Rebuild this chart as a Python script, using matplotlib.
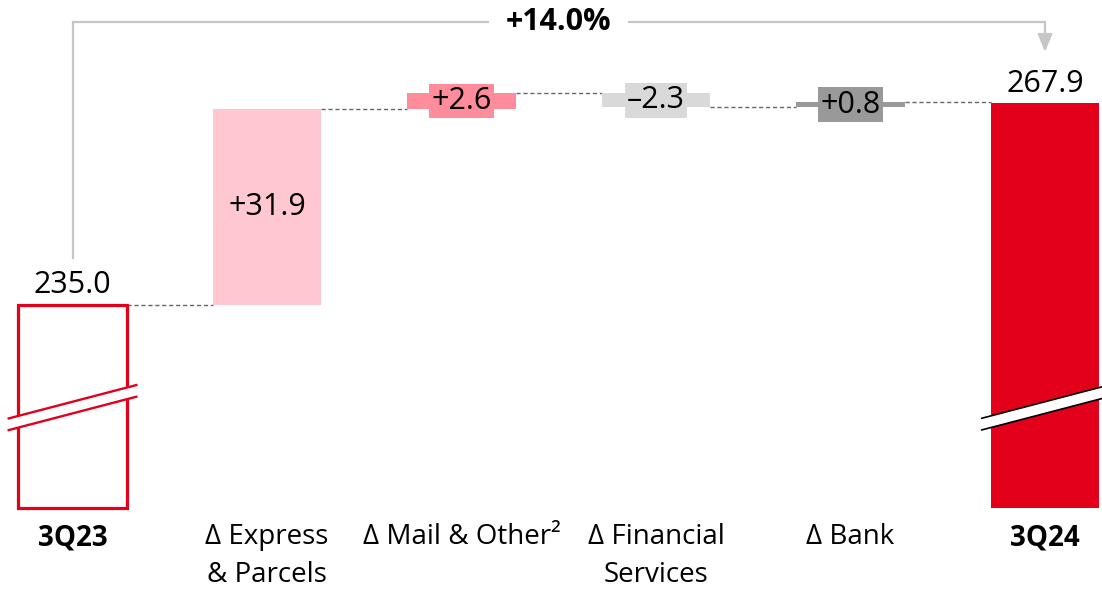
import numpy as np
import matplotlib
matplotlib.use('Agg')
import matplotlib.pyplot as plt
from matplotlib.patches import Polygon

plt.rcParams['font.family'] = ['Open Sans', 'DejaVu Sans']
FONT = 22

# ── Data ──────────────────────────────────────────────────────────────────────
categories = ['3Q23', '∆ Express\n& Parcels', '∆ Mail & Other²',
              '∆ Financial\nServices', '∆ Bank', '3Q24']
start_value = 235.0
deltas = [31.9, 2.6, -2.3, 0.8]
end_value = 267.9
delta_labels = ['+31.9', '+2.6', '–2.3', '+0.8']
growth_label = '+14.0%'

# ── Colours ───────────────────────────────────────────────────────────────────
RED = '#E2001A'
delta_colors = ['#FFC8D0', '#FF8C9B', '#D9D9D9', '#999999']
ARROW = '#C6C6C6'
DASH = '#666666'

# axis break: bars for totals start at this value
BASE, TOP = 201.95, 284.65
W = 0.556

fig = plt.figure(figsize=(11.02, 5.89), dpi=100)
ax = fig.add_axes([0, 81 / 589, 1, 508 / 589])
ax.set_xlim(-0.373, 5.293)
ax.set_ylim(BASE, TOP)
ax.axis('off')

x = np.arange(len(categories))
levels = start_value + np.cumsum(deltas)
bottoms = np.concatenate([[start_value], levels[:-1]])

# totals
ax.bar(x[0], start_value - BASE, bottom=BASE, width=W, facecolor='white',
       edgecolor=RED, linewidth=2.3, clip_on=False, zorder=2)
ax.bar(x[-1], end_value - BASE, bottom=BASE, width=W, color=RED,
       clip_on=False, zorder=2)

# floating deltas
ax.bar(x[1:-1], deltas, bottom=bottoms, width=W, color=delta_colors, zorder=2)

# connectors
conn = [start_value] + list(levels)
for i in range(len(categories) - 1):
    ax.plot([x[i] + W / 2, x[i + 1] - W / 2], [conn[i], conn[i]],
            color=DASH, linewidth=1, dashes=(3, 2), zorder=1)

# value labels
ax.annotate(f'{start_value:.1f}', (x[0], start_value), xytext=(0, 8.5),
            textcoords='offset points', ha='center', va='baseline', fontsize=FONT)
ax.annotate(f'{end_value:.1f}', (x[-1], end_value), xytext=(0, 8),
            textcoords='offset points', ha='center', va='baseline', fontsize=FONT)
ax.text(x[1], bottoms[0] + deltas[0] / 2, delta_labels[0], ha='center',
        va='center', fontsize=FONT)
for i in range(1, len(deltas)):
    ax.text(x[i + 1], bottoms[i] + deltas[i] / 2, delta_labels[i],
            ha='center', va='center', fontsize=FONT, zorder=3,
            bbox=dict(boxstyle='square,pad=0.08', fc=delta_colors[i], ec='none'))


# break marks
def draw_break(xc, yc, hl, hr, color, lw):
    s, g = 8.28, 0.95
    pts = [(xc - hl, yc - s * hl - g), (xc + hr, yc + s * hr - g),
           (xc + hr, yc + s * hr + g), (xc - hl, yc - s * hl + g)]
    ax.add_patch(Polygon(pts, closed=True, fc='white', ec='none',
                         zorder=4, clip_on=False))
    for sign in (-1, 1):
        ax.plot([xc - hl, xc + hr],
                [yc - s * hl + sign * g, yc + s * hr + sign * g],
                color=color, linewidth=lw, zorder=5, clip_on=False,
                solid_capstyle='butt')


draw_break(x[0], 218.3, 0.334, 0.334, RED, 1.7)
draw_break(x[-1], 218.3, 0.329, 0.4, 'black', 1.2)

# growth arrow
arrow_top = 281.05
ax.plot([x[0], x[0], x[-1], x[-1]],
        [start_value + 7.6, arrow_top, arrow_top, end_value + 9],
        color=ARROW, linewidth=1.6, zorder=1, solid_joinstyle='miter')
ax.annotate('', xy=(x[-1], end_value + 8.3), xytext=(x[-1], end_value + 10),
            arrowprops=dict(arrowstyle='-|>,head_length=0.6,head_width=0.25',
                            mutation_scale=18, color=ARROW, lw=1.6,
                            shrinkA=0, shrinkB=0))
ax.text((x[2] + x[3]) / 2, arrow_top, growth_label, ha='center',
        va='center', fontsize=FONT, fontweight='bold', zorder=3,
        bbox=dict(boxstyle='square,pad=0.55', fc='white', ec='none'))

# category labels
for xi, lab in zip(x, categories):
    bold = lab.startswith('3Q')
    ax.annotate(lab, (xi, BASE), xytext=(0, -11), textcoords='offset points',
                ha='center', va='top', fontsize=FONT - 2, linespacing=1.45,
                fontweight='bold' if bold else 'normal', annotation_clip=False)

plt.savefig('out.png', dpi=100)
